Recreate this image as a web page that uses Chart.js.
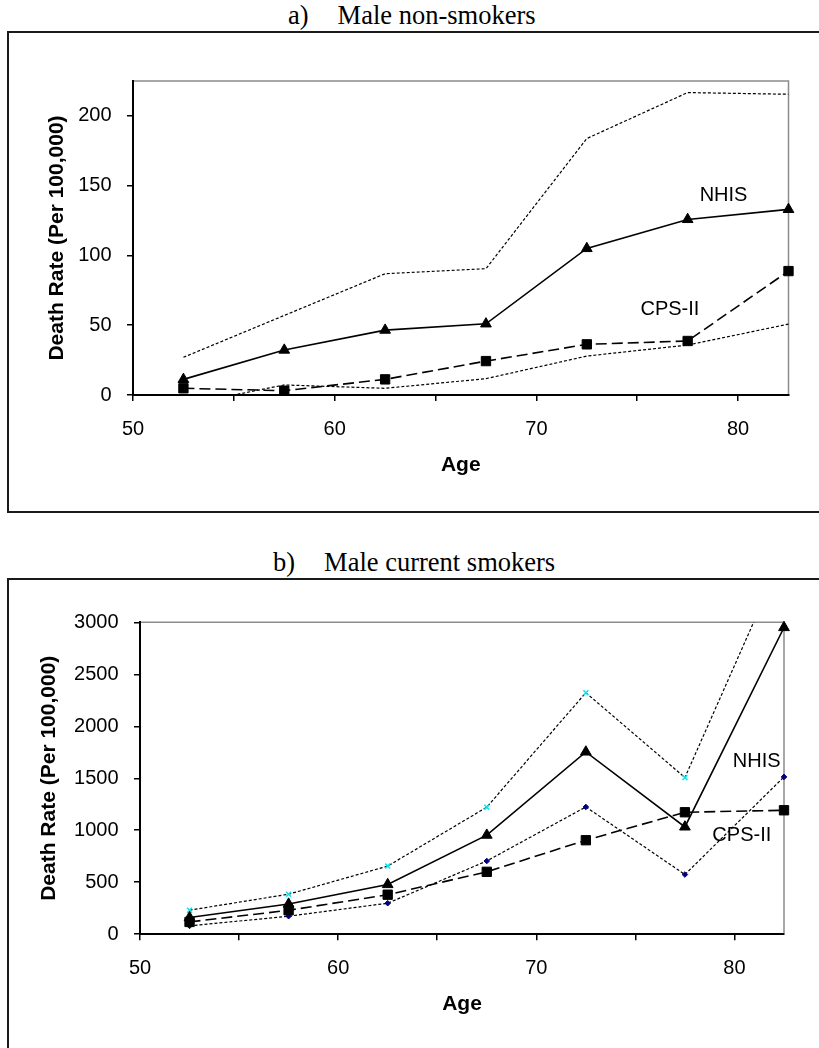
<!DOCTYPE html>
<html>
<head>
<meta charset="utf-8">
<title>Death rate by age, male non-smokers and current smokers</title>
<script src="https://cdn.jsdelivr.net/npm/chart.js@4.4.0/dist/chart.umd.min.js"></script>
<style>
  body { margin: 0; background: #fff; width: 819px; height: 1048px; overflow: hidden; position: relative; }
  .title { position: absolute; font-family: 'Liberation Serif', 'Times New Roman', serif; font-size: 26.5px; line-height: 1; white-space: nowrap; color: #000; }
  .title span { margin-left: 29px; }
  .frame { position: absolute; left: 7px; width: 840px; border: 2px solid #1a1a1a; box-sizing: border-box; }
  canvas { position: absolute; left: 0; }
</style>
</head>
<body>
<div class="title" style="left:288px; top:2px">a)<span>Male non-smokers</span></div>
<div class="frame" style="top:31px; height:482px"></div>
<canvas id="nonSmokers" width="819" height="520" style="top:0"></canvas>

<div class="title" style="left:273px; top:549px">b)<span>Male current smokers</span></div>
<div class="frame" style="top:578px; height:500px"></div>
<canvas id="smokers" width="819" height="528" style="top:520px"></canvas>

<script>
'use strict'

const ages = [52.5, 57.5, 62.5, 67.5, 72.5, 77.5, 82.5]
const ageTickLabels = [50, 60, 70, 80]

// a) male non-smokers
const nonNhis = [11.2, 32.2, 46.5, 51, 105, 125.8, 133]
const nonCps = [4.8, 3.1, 11.2, 24.3, 36.3, 38.7, 88.8]
const nonUpper = [27, 57, 86.9, 90.5, 183.8, 216.7, 215.5]
const nonLower = [-7.2, 7.2, 4.8, 11.7, 27.9, 35.8, 50.8]

// b) male current smokers
const curNhis = [160, 290, 478, 953, 1753, 1032, 2950]
const curCps = [118, 230, 380, 600, 904, 1173, 1192]
const curUpper = [231, 385, 655, 1222, 2323, 1507, 3660]
const curLower = [80, 173, 298, 704, 1224, 574, 1513]

Chart.defaults.font.family = "'Liberation Sans', Arial, sans-serif"
Chart.defaults.color = '#000'

const points = values => values.map((v, i) => ({x: ages[i], y: v}))

// gray plot-area border on top and right (axes cover the other two sides)
const plotFrame = {
    id: 'plotFrame',
    beforeDatasetsDraw(chart) {
        const {ctx, chartArea: a} = chart
        ctx.save()
        ctx.strokeStyle = '#8c8c8c'
        ctx.lineWidth = 1.5
        ctx.beginPath()
        ctx.moveTo(a.left + 1, a.top)
        ctx.lineTo(a.right, a.top)
        ctx.lineTo(a.right, a.bottom - 1)
        ctx.stroke()
        ctx.restore()
    }
}

// NHIS / CPS-II text placed in data units
const seriesLabels = {
    id: 'seriesLabels',
    afterDatasetsDraw(chart, args, opts) {
        const {ctx, scales} = chart
        ctx.save()
        ctx.font = "20px 'Liberation Sans', Arial, sans-serif"
        ctx.fillStyle = '#000'
        ctx.textAlign = 'center'
        ctx.textBaseline = 'middle'
        for (const item of opts.items) {
            ctx.fillText(item.text, scales.x.getPixelForValue(item.x), scales.y.getPixelForValue(item.y))
        }
        ctx.restore()
    }
}

function makeDatasets(nhis, cps, upper, lower, smokers) {
    const ciClip = {left: 10, top: 0, right: 10, bottom: 0}
    return [
        {data: points(nhis), borderColor: '#000', backgroundColor: '#000', borderWidth: 1.6,
         pointStyle: 'triangle', pointRadius: 6.2, pointBorderWidth: 1, clip: false},
        {data: points(cps), borderColor: '#000', backgroundColor: '#000', borderWidth: 1.6, borderDash: [11, 5],
         pointStyle: 'rect', pointRadius: 6.6, pointBorderWidth: 1, clip: false},
        {data: points(upper), borderColor: '#000', borderWidth: 1.2, borderDash: [3, 2],
         pointStyle: 'crossRot', pointRadius: smokers ? 3.5 : 0, pointBorderColor: '#00e8f0',
         pointBorderWidth: 1.5, clip: ciClip},
        {data: points(lower), borderColor: '#000', borderWidth: 1.2, borderDash: [3, 2],
         pointStyle: 'rectRot', pointRadius: smokers ? 2.8 : 0, pointBackgroundColor: '#000080',
         pointBorderColor: '#000080', pointBorderWidth: 1, clip: ciClip}
    ]
}

function drawChart(canvasId, datasets, yMax, yStep, layout, labels) {
    const axisFont = {size: 21, weight: 'bold'}
    return new Chart(document.getElementById(canvasId), {
        type: 'line',
        data: {datasets: datasets},
        options: {
            responsive: false,
            animation: false,
            layout: {padding: layout.padding},
            plugins: {
                legend: {display: false},
                tooltip: {enabled: false},
                seriesLabels: {items: labels}
            },
            scales: {
                x: {
                    type: 'linear', min: 50, max: 82.5,
                    border: {color: '#000', width: 2},
                    grid: {drawOnChartArea: false, color: '#000', lineWidth: 1.5, tickLength: 6},
                    ticks: {
                        stepSize: 5, includeBounds: false, autoSkip: false, maxRotation: 0,
                        padding: 16.5, font: {size: 20},
                        callback: v => ageTickLabels.includes(v) ? String(v) : ''
                    },
                    title: {display: true, text: 'Age', font: axisFont, padding: 0},
                    afterFit: s => { s.height = layout.xHeight }
                },
                y: {
                    min: 0, max: yMax,
                    border: {color: '#000', width: 2},
                    grid: {drawOnChartArea: false, color: '#000', lineWidth: 1.5, tickLength: 6},
                    ticks: {stepSize: yStep, includeBounds: false, padding: 15.5, font: {size: 20}, callback: v => String(v)},
                    title: {display: true, text: 'Death Rate (Per 100,000)', font: axisFont, padding: 0},
                    afterFit: s => { s.width = layout.yWidth }
                }
            }
        },
        plugins: [plotFrame, seriesLabels]
    })
}

drawChart('nonSmokers', makeDatasets(nonNhis, nonCps, nonUpper, nonLower, false), 225, 50,
    {padding: {left: 45, top: 81, right: 30.5, bottom: 42.4}, yWidth: 88, xHeight: 82.6},
    [{text: 'NHIS', x: 79.28, y: 142.9}, {text: 'CPS-II', x: 76.62, y: 61.6}])

drawChart('smokers', makeDatasets(curNhis, curCps, curUpper, curLower, true), 3000, 500,
    {padding: {left: 36.6, top: 102.3, right: 35, bottom: 30.8}, yWidth: 103.4, xHeight: 83},
    [{text: 'NHIS', x: 81.12, y: 1666}, {text: 'CPS-II', x: 80.37, y: 952}])
</script>
</body>
</html>
